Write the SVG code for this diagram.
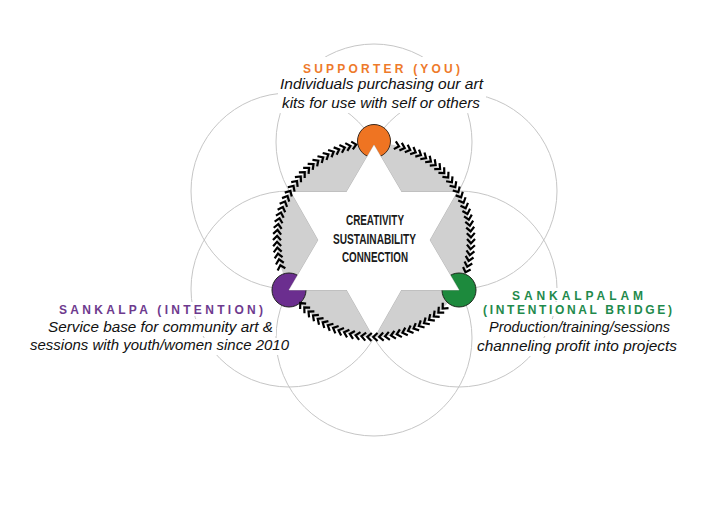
<svg xmlns="http://www.w3.org/2000/svg" width="721" height="509" viewBox="0 0 721 509">
<style>
.flower{fill:none;stroke:#c6c6c6;stroke-width:1}
.bg{fill:#fff}
.ttl{font-family:"Liberation Sans",Arial,sans-serif;font-weight:bold;font-size:12px}
.body{font-family:"Liberation Sans",Arial,sans-serif;font-style:italic;font-size:14px;fill:#111}
.ctr{font-family:"Liberation Sans",Arial,sans-serif;font-weight:bold;font-size:14px;fill:#1a1a1a}
.tri-s{fill:none;stroke:#a8a8a8;stroke-width:0.8}
.tri-f{fill:#fff}
.chev{fill:none;stroke:#000;stroke-width:2.2;stroke-linejoin:miter;stroke-linecap:butt}
</style>
<defs>
<path id="ch" class="chev" d="M371.3,139 L375.6,143 L371.3,147"/>
<g id="c4">
<use href="#ch"/>
<use href="#ch" transform="rotate(3.5 374 240)"/>
<use href="#ch" transform="rotate(7 374 240)"/>
<use href="#ch" transform="rotate(10.5 374 240)"/>
</g>
<g id="c28">
<use href="#c4"/>
<use href="#c4" transform="rotate(14 374 240)"/>
<use href="#c4" transform="rotate(28 374 240)"/>
<use href="#c4" transform="rotate(42 374 240)"/>
<use href="#c4" transform="rotate(56 374 240)"/>
<use href="#c4" transform="rotate(70 374 240)"/>
<use href="#c4" transform="rotate(84 374 240)"/>
</g>
</defs>
<rect width="721" height="509" fill="#fff"/>
<g id="flower">
<circle class="flower" cx="374" cy="142" r="98"/>
<circle class="flower" cx="459" cy="191" r="98"/>
<circle class="flower" cx="459" cy="289" r="98"/>
<circle class="flower" cx="374" cy="338" r="98"/>
<circle class="flower" cx="289" cy="289" r="98"/>
<circle class="flower" cx="289" cy="191" r="98"/>
</g>
<circle id="hub" cx="374" cy="240" r="97" fill="#d0d0d0"/>
<g id="supporter">
<rect class="bg" x="278" y="57" width="208" height="56"/>
<circle cx="374" cy="141" r="16.5" fill="#EF7422" stroke="#3a2a1e" stroke-width="1"/>
<text class="ttl" x="303" y="72.5" fill="#EE7A2B" textLength="157" lengthAdjust="spacing">SUPPORTER (YOU)</text>
<text class="body" x="280" y="88.5" textLength="203" lengthAdjust="spacingAndGlyphs">Individuals purchasing our art</text>
<text class="body" x="282" y="107.5" textLength="198" lengthAdjust="spacingAndGlyphs">kits for use with self or others</text>
</g>
<g id="sankalpa">
<rect class="bg" x="56" y="302" width="211" height="14"/>
<rect class="bg" x="45" y="319" width="231" height="17"/>
<rect class="bg" x="27" y="338" width="265" height="17"/>
<circle cx="289" cy="290" r="17" fill="#6B2E8F" stroke="#222" stroke-width="1"/>
<text class="ttl" x="59" y="313.5" fill="#6E3A8E" textLength="204" lengthAdjust="spacing">SANKALPA (INTENTION)</text>
<text class="body" x="48" y="332" textLength="225" lengthAdjust="spacingAndGlyphs">Service base for community art &amp;</text>
<text class="body" x="30" y="350" textLength="259" lengthAdjust="spacingAndGlyphs">sessions with youth/women since 2010</text>
</g>
<g id="sankalpalam">
<rect class="bg" x="509" y="288" width="137" height="13"/>
<rect class="bg" x="480" y="302" width="195" height="14"/>
<rect class="bg" x="486" y="319" width="187" height="17"/>
<rect class="bg" x="474" y="338" width="206" height="18"/>
<circle cx="459" cy="290" r="17" fill="#1D8A3D" stroke="#1c2a1c" stroke-width="1"/>
<text class="ttl" x="512" y="300" fill="#1F8A4C" textLength="131" lengthAdjust="spacing">SANKALPALAM</text>
<text class="ttl" x="483" y="314" fill="#1F8A4C" textLength="189" lengthAdjust="spacing">(INTENTIONAL BRIDGE)</text>
<text class="body" x="489" y="332" textLength="181" lengthAdjust="spacingAndGlyphs">Production/training/sessions</text>
<text class="body" x="477" y="350.5" textLength="200" lengthAdjust="spacingAndGlyphs">channeling profit into projects</text>
</g>
<g id="center">
<polygon class="tri-s" points="374,145 289,290 459,290"/>
<polygon class="tri-s" points="291,192 457,192 374,338"/>
<polygon class="tri-f" points="374,145 289,290 459,290"/>
<polygon class="tri-f" points="291,192 457,192 374,338"/>
<text class="ctr" x="346" y="225" textLength="58" lengthAdjust="spacingAndGlyphs">CREATIVITY</text>
<text class="ctr" x="333" y="243.5" textLength="83" lengthAdjust="spacingAndGlyphs">SUSTAINABILITY</text>
<text class="ctr" x="342" y="262" textLength="66" lengthAdjust="spacingAndGlyphs">CONNECTION</text>
</g>
<g id="connectors">
<use href="#c28" transform="rotate(14 374 240)"/>
<use href="#c28" transform="rotate(134 374 240)"/>
<use href="#c28" transform="rotate(254 374 240)"/>
</g>
</svg>
